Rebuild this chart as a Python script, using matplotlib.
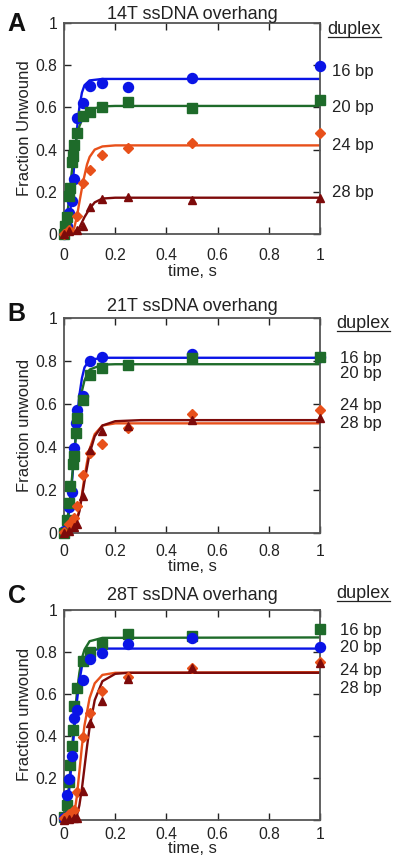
import matplotlib
matplotlib.use("Agg")
import matplotlib.pyplot as plt

plt.rcParams['font.family'] = ['Liberation Sans', 'DejaVu Sans']

# ---------------- data ----------------
panel_letters = ["A", "B", "C"]
panel_titles = ["14T ssDNA overhang", "21T ssDNA overhang", "28T ssDNA overhang"]
y_labels = ["Fraction Unwound", "Fraction unwound", "Fraction unwound"]
duplex_labels = ["16 bp", "20 bp", "24 bp", "28 bp"]
x_ticks = [0, 0.2, 0.4, 0.6, 0.8, 1]
x_tick_labels = ["0", "0.2", "0.4", "0.6", "0.8", "1"]
y_ticks = [0, 0.2, 0.4, 0.6, 0.8, 1]
y_tick_labels = ["0", "0.2", "0.4", "0.6", "0.8", "1"]

# Panel A (14T)
A_t16 = [0, 0.01, 0.02, 0.03, 0.04, 0.05, 0.075, 0.1, 0.15, 0.25, 0.5, 1]
A_y16 = [0, 0.04, 0.10, 0.155, 0.26, 0.55, 0.62, 0.70, 0.716, 0.697, 0.74, 0.795]
A_t20 = [0, 0.005, 0.01, 0.02, 0.025, 0.03, 0.035, 0.04, 0.05, 0.075, 0.1, 0.15, 0.25, 0.5, 1]
A_y20 = [0, 0.04, 0.08, 0.18, 0.22, 0.34, 0.37, 0.42, 0.48, 0.557, 0.58, 0.602, 0.624, 0.597, 0.637]
A_t24 = [0, 0.02, 0.05, 0.075, 0.1, 0.15, 0.25, 0.5, 1]
A_y24 = [0, 0.02, 0.085, 0.24, 0.305, 0.373, 0.41, 0.43, 0.48]
A_t28 = [0, 0.02, 0.05, 0.075, 0.1, 0.15, 0.25, 0.5, 1]
A_y28 = [0, 0.012, 0.02, 0.04, 0.13, 0.166, 0.174, 0.163, 0.17]
# fit curves A
A_ft16 = [0, 0.01, 0.02, 0.03, 0.04, 0.05, 0.06, 0.07, 0.08, 0.1, 0.15, 1]
A_fy16 = [0, 0.01, 0.06, 0.17, 0.33, 0.49, 0.60, 0.67, 0.705, 0.728, 0.735, 0.735]
A_ft20 = [0, 0.01, 0.02, 0.03, 0.04, 0.05, 0.06, 0.075, 0.1, 0.15, 0.2, 1]
A_fy20 = [0, 0.06, 0.17, 0.29, 0.39, 0.46, 0.51, 0.555, 0.59, 0.605, 0.607, 0.607]
A_ft24 = [0, 0.03, 0.04, 0.05, 0.06, 0.075, 0.09, 0.1, 0.12, 0.15, 0.2, 1]
A_fy24 = [0, 0.005, 0.03, 0.08, 0.15, 0.25, 0.33, 0.365, 0.40, 0.415, 0.42, 0.42]
A_ft28 = [0, 0.04, 0.06, 0.08, 0.1, 0.12, 0.15, 0.2, 1]
A_fy28 = [0, 0.005, 0.03, 0.08, 0.12, 0.15, 0.168, 0.172, 0.172]

# Panel B (21T)
B_t16 = [0, 0.02, 0.03, 0.04, 0.045, 0.05, 0.075, 0.1, 0.15, 0.5, 1]
B_y16 = [0.01, 0.12, 0.19, 0.395, 0.51, 0.57, 0.636, 0.80, 0.817, 0.833, 0.82]
B_t20 = [0, 0.01, 0.02, 0.025, 0.035, 0.04, 0.045, 0.05, 0.075, 0.1, 0.15, 0.25, 0.5, 1]
B_y20 = [0, 0.062, 0.14, 0.217, 0.32, 0.36, 0.465, 0.535, 0.62, 0.733, 0.767, 0.783, 0.814, 0.817]
B_t24 = [0, 0.02, 0.04, 0.05, 0.075, 0.1, 0.15, 0.25, 0.5, 1]
B_y24 = [0.005, 0.04, 0.07, 0.124, 0.27, 0.37, 0.414, 0.488, 0.553, 0.57]
B_t28 = [0, 0.02, 0.04, 0.05, 0.075, 0.1, 0.15, 0.25, 0.5, 1]
B_y28 = [0, 0.01, 0.03, 0.04, 0.17, 0.388, 0.473, 0.50, 0.527, 0.535]
B_ft16 = [0, 0.01, 0.02, 0.03, 0.04, 0.05, 0.06, 0.07, 0.08, 0.1, 0.15, 1]
B_fy16 = [0, 0.03, 0.10, 0.22, 0.37, 0.52, 0.64, 0.72, 0.77, 0.805, 0.815, 0.815]
B_ft20 = [0, 0.01, 0.02, 0.03, 0.04, 0.05, 0.06, 0.07, 0.08, 0.1, 0.15, 0.2, 1]
B_fy20 = [0, 0.04, 0.12, 0.24, 0.37, 0.49, 0.59, 0.66, 0.71, 0.76, 0.783, 0.785, 0.785]
B_ft24 = [0, 0.03, 0.05, 0.06, 0.07, 0.08, 0.09, 0.1, 0.12, 0.15, 0.2, 1]
B_fy24 = [0, 0.01, 0.06, 0.11, 0.18, 0.26, 0.33, 0.39, 0.46, 0.50, 0.51, 0.51]
B_ft28 = [0, 0.04, 0.06, 0.08, 0.1, 0.12, 0.15, 0.2, 0.3, 1]
B_fy28 = [0, 0.02, 0.10, 0.24, 0.37, 0.45, 0.50, 0.52, 0.525, 0.525]

# Panel C (28T)
C_t16 = [0, 0.01, 0.02, 0.025, 0.03, 0.035, 0.04, 0.05, 0.075, 0.1, 0.15, 0.25, 0.5, 1]
C_y16 = [0.015, 0.07, 0.18, 0.26, 0.35, 0.43, 0.54, 0.628, 0.754, 0.80, 0.837, 0.884, 0.874, 0.91]
C_t20 = [0, 0.01, 0.02, 0.03, 0.04, 0.05, 0.075, 0.1, 0.15, 0.25, 0.5, 1]
C_y20 = [0.01, 0.121, 0.196, 0.306, 0.487, 0.523, 0.667, 0.765, 0.793, 0.837, 0.863, 0.821]
C_t24 = [0, 0.02, 0.04, 0.05, 0.075, 0.1, 0.15, 0.25, 0.5, 1]
C_y24 = [0.008, 0.03, 0.047, 0.133, 0.397, 0.51, 0.612, 0.68, 0.722, 0.753]
C_t28 = [0, 0.02, 0.04, 0.05, 0.075, 0.1, 0.15, 0.25, 0.5, 1]
C_y28 = [0, 0.005, 0.008, 0.01, 0.14, 0.463, 0.565, 0.67, 0.722, 0.746]
C_ft16 = [0, 0.01, 0.02, 0.03, 0.04, 0.05, 0.06, 0.07, 0.08, 0.1, 0.15, 1]
C_fy16 = [0, 0.06, 0.17, 0.32, 0.47, 0.60, 0.70, 0.77, 0.81, 0.85, 0.866, 0.868]
C_ft20 = [0, 0.01, 0.02, 0.03, 0.04, 0.05, 0.06, 0.07, 0.08, 0.1, 0.15, 1]
C_fy20 = [0, 0.04, 0.14, 0.28, 0.43, 0.56, 0.66, 0.73, 0.77, 0.805, 0.815, 0.815]
C_ft24 = [0, 0.03, 0.04, 0.05, 0.06, 0.07, 0.08, 0.1, 0.12, 0.15, 0.2, 1]
C_fy24 = [0, 0.005, 0.03, 0.11, 0.23, 0.35, 0.45, 0.58, 0.65, 0.69, 0.70, 0.703]
C_ft28 = [0, 0.05, 0.06, 0.07, 0.08, 0.09, 0.1, 0.12, 0.15, 0.2, 0.25, 1]
C_fy28 = [0, 0.02, 0.07, 0.15, 0.25, 0.35, 0.44, 0.57, 0.66, 0.695, 0.70, 0.70]

# label y positions (data units) for the duplex labels
A_label_y = [0.77, 0.60, 0.42, 0.195]
B_label_y = [0.81, 0.74, 0.595, 0.51]
C_label_y = [0.90, 0.82, 0.71, 0.625]
duplex_y = [0.97, 0.975, 1.075]

# ---------------- style ----------------
colors = {"16": "#0a14e6", "20": "#1e6b2a", "24": "#e8501a", "28": "#7d0a0a"}
markers = {"16": "o", "20": "s", "24": "D", "28": "^"}
msizes = {"16": 7.2, "20": 7.0, "24": 5.2, "28": 6.2}

panels = [
    dict(t={"16": A_t16, "20": A_t20, "24": A_t24, "28": A_t28},
         y={"16": A_y16, "20": A_y20, "24": A_y24, "28": A_y28},
         ft={"16": A_ft16, "20": A_ft20, "24": A_ft24, "28": A_ft28},
         fy={"16": A_fy16, "20": A_fy20, "24": A_fy24, "28": A_fy28},
         ly=A_label_y, rect=[0.16, 0.7298, 0.64, 0.2436]),
    dict(t={"16": B_t16, "20": B_t20, "24": B_t24, "28": B_t28},
         y={"16": B_y16, "20": B_y20, "24": B_y24, "28": B_y28},
         ft={"16": B_ft16, "20": B_ft20, "24": B_ft24, "28": B_ft28},
         fy={"16": B_fy16, "20": B_fy20, "24": B_fy24, "28": B_fy28},
         ly=B_label_y, rect=[0.16, 0.3845, 0.64, 0.2483]),
    dict(t={"16": C_t16, "20": C_t20, "24": C_t24, "28": C_t28},
         y={"16": C_y16, "20": C_y20, "24": C_y24, "28": C_y28},
         ft={"16": C_ft16, "20": C_ft20, "24": C_ft24, "28": C_ft28},
         fy={"16": C_fy16, "20": C_fy20, "24": C_fy24, "28": C_fy28},
         ly=C_label_y, rect=[0.16, 0.0530, 0.64, 0.2430]),
]

fig = plt.figure(figsize=(4.0, 8.66), dpi=100)
spine_col = "#555555"
text_col = "#222222"
fs_tick = 11.3
fs_lab = 12
fs_title = 13
fs_bp = 12
letter_y = [0.995, 1.02, 1.065]
title_pad = [3, 5, 7]
x_pads = [10, 8, 5]
x_labelpads = [1, 0, -1]

duplex_texts = []
for i, p in enumerate(panels):
    ax = fig.add_axes(p["rect"])
    for k in ["16", "20", "24", "28"]:
        # panel C uses green squares for 16 bp and blue circles for 20 bp
        if i == 2 and k == "16":
            col, mk, ms = colors["20"], markers["20"], msizes["20"]
        elif i == 2 and k == "20":
            col, mk, ms = colors["16"], markers["16"], msizes["16"]
        else:
            col, mk, ms = colors[k], markers[k], msizes[k]
        ax.plot(p["ft"][k], p["fy"][k], color=col, lw=1.7, zorder=2,
                solid_joinstyle="round")
        ax.plot(p["t"][k], p["y"][k], linestyle="none", marker=mk, ms=ms,
                color=col, mec=col, clip_on=False, zorder=3)
    ax.set_xlim(0, 1)
    ax.set_ylim(0, 1)
    ax.set_xticks(x_ticks)
    ax.set_xticklabels(x_tick_labels)
    ax.set_yticks(y_ticks)
    ax.set_yticklabels(y_tick_labels)
    ax.tick_params(direction="in", top=True, right=True, length=5, width=1.0,
                   color="#222222", labelsize=fs_tick, labelcolor=text_col)
    ax.tick_params(axis="x", pad=x_pads[i])
    ax.tick_params(axis="y", pad=5)
    for s in ax.spines.values():
        s.set_color(spine_col)
        s.set_linewidth(1.3)
    ax.set_xlabel("time, s", fontsize=fs_lab, color=text_col, labelpad=x_labelpads[i])
    ax.set_ylabel(y_labels[i], fontsize=fs_lab, color=text_col, labelpad=2)
    ax.set_title(panel_titles[i], fontsize=fs_title, color=text_col, pad=title_pad[i])
    ax.text(-0.185, letter_y[i], panel_letters[i], transform=ax.transAxes,
            fontsize=18, fontweight="bold", color="#111111", ha="center", va="center")
    xoff = 1.045 if i == 0 else 1.08
    for lab, yy in zip(duplex_labels, p["ly"]):
        ax.text(xoff, yy, lab, transform=ax.get_yaxis_transform(), fontsize=fs_bp,
                color=text_col, ha="left", va="center")
    dt = ax.text(xoff - 0.015, duplex_y[i], "duplex", transform=ax.get_yaxis_transform(),
                 fontsize=fs_title, color=text_col, ha="left", va="center")
    duplex_texts.append((ax, dt))

# underline each "duplex" label using its rendered extent
renderer = fig.canvas.get_renderer()
for ax, dt in duplex_texts:
    bb = dt.get_window_extent(renderer=renderer)
    inv = fig.transFigure.inverted()
    (x0, y0), (x1, y1) = inv.transform([(bb.x0, bb.y0), (bb.x1, bb.y1)])
    yl = y0 + (y1 - y0) * 0.08
    fig.add_artist(plt.Line2D([x0, x1], [yl, yl], color=text_col, lw=0.9,
                              transform=fig.transFigure))

fig.savefig("out.png", dpi=100)
